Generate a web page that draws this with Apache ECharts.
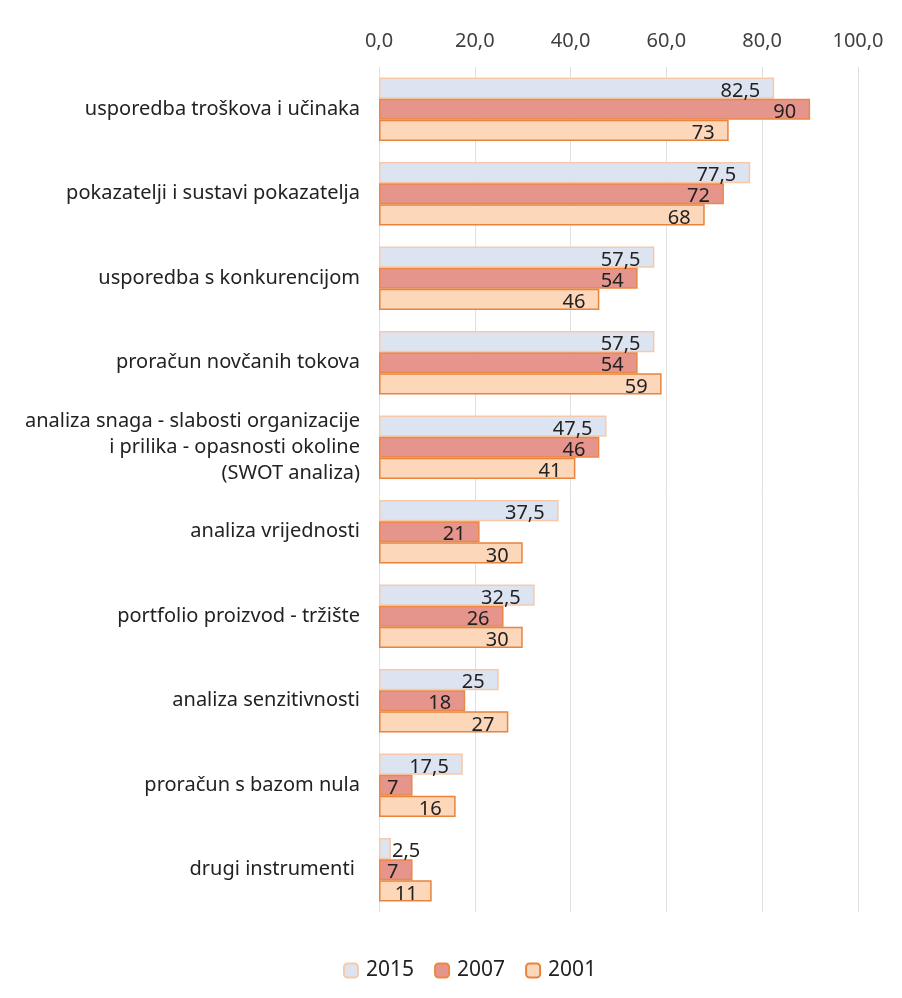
<!DOCTYPE html>
<html>
<head>
<meta charset="utf-8">
<script src="https://cdn.jsdelivr.net/npm/echarts@6/dist/echarts.min.js"></script>
<style>html,body{margin:0;padding:0;background:#fff;}#c{width:902px;height:998px;}</style>
</head>
<body>
<div id="c"></div>
<script>
const categories = [
  'usporedba troškova i učinaka',
  'pokazatelji i sustavi pokazatelja',
  'usporedba s konkurencijom',
  'proračun novčanih tokova',
  'analiza snaga - slabosti organizacije\ni prilika - opasnosti okoline\n(SWOT analiza)',
  'analiza vrijednosti',
  'portfolio proizvod - tržište',
  'analiza senzitivnosti',
  'proračun s bazom nula',
  'drugi instrumenti '
];
const seriesNames = ['2015', '2007', '2001'];
const values2015 = [82.5, 77.5, 57.5, 57.5, 47.5, 37.5, 32.5, 25, 17.5, 2.5];
const values2007 = [90, 72, 54, 54, 46, 21, 26, 18, 7, 7];
const values2001 = [73, 68, 46, 59, 41, 30, 30, 27, 16, 11];
const axisTicks = [0, 20, 40, 60, 80, 100];

const fills = ['#dde4f1', '#e5958b', '#fcd7ba'];
const borders = ['#f7c9a9', '#eb8845', '#e8843c'];
const FONT = 'Noto Sans';

function fmt(v){ return String(v).replace('.', ','); }
function mk(vals){
  return vals.map(v => v < 5 ? {value: v, label: {position: 'right', distance: 1}} : v);
}
const allVals = [values2015, values2007, values2001];

const chart = echarts.init(document.getElementById('c'), null, {renderer: 'canvas'});
chart.setOption({
  backgroundColor: '#ffffff',
  animation: false,
  grid: {left: 379, right: 44, top: 67, bottom: 86, containLabel: false},
  legend: {
    data: seriesNames,
    left: 338, top: 955,
    itemWidth: 14, itemHeight: 14, itemGap: 20,
    textStyle: {fontFamily: FONT, fontSize: 21, color: '#222', padding: [0, 0, 0, 3]}
  },
  xAxis: {
    type: 'value', position: 'top', min: axisTicks[0], max: axisTicks[axisTicks.length-1], interval: 20,
    axisLine: {show: false}, axisTick: {show: false},
    splitLine: {show: true, lineStyle: {color: '#e0e0e0', width: 1}},
    axisLabel: {fontFamily: FONT, fontSize: 20, color: '#404040', margin: 16,
      formatter: v => v.toFixed(1).replace('.', ',')}
  },
  yAxis: {
    type: 'category', inverse: true, data: categories,
    axisLine: {show: false}, axisTick: {show: false},
    axisLabel: {fontFamily: FONT, fontSize: 20, color: '#222', margin: 19, lineHeight: 26, align: 'right'}
  },
  series: seriesNames.map((n, i) => ({
    name: n, type: 'bar', data: mk(allVals[i]),
    barGap: '0%', barCategoryGap: '25%',
    itemStyle: {color: fills[i], borderColor: borders[i], borderWidth: 1.5},
    label: {show: true, position: 'insideRight', distance: 14, offset: [0, 3],
      fontFamily: FONT, fontSize: 20, color: '#222', formatter: p => fmt(p.value)}
  }))
});
</script>
</body>
</html>
